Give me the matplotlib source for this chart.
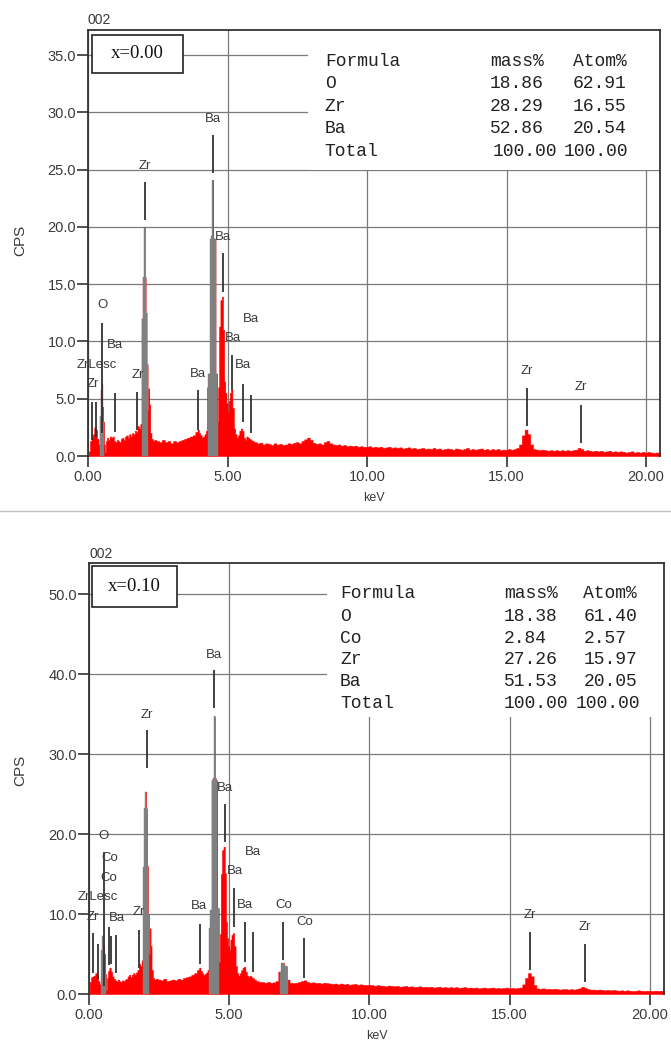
import numpy as np
import matplotlib
matplotlib.use("Agg")
import matplotlib.pyplot as plt
from matplotlib.patches import Rectangle
from matplotlib.lines import Line2D

# ---------------- data ----------------
energy_low = [0.00, 0.05, 0.10, 0.15, 0.20, 0.25, 0.30, 0.35, 0.40, 0.44, 0.47, 0.50, 0.53, 0.56, 0.59,
              0.62, 0.66, 0.70, 0.75, 0.80, 0.85, 0.90, 0.95, 1.00, 1.05, 1.10, 1.15, 1.20, 1.25, 1.30,
              1.35, 1.40, 1.45, 1.50, 1.55, 1.60, 1.65, 1.70, 1.75, 1.80, 1.85, 1.90, 1.94, 1.98, 2.02,
              2.05, 2.08, 2.12, 2.15, 2.18, 2.21, 2.25, 2.30, 2.35, 2.40, 2.50, 2.60, 2.70, 2.80, 2.90,
              3.00, 3.10, 3.20, 3.30, 3.40, 3.50, 3.60, 3.70, 3.80, 3.90, 3.95, 4.00, 4.05, 4.10, 4.15,
              4.20, 4.25, 4.29, 4.34, 4.40, 4.44, 4.47, 4.50, 4.54, 4.60, 4.65, 4.68, 4.72, 4.77, 4.82,
              4.86, 4.90, 4.94, 4.98, 5.02, 5.06, 5.10, 5.15, 5.20, 5.25, 5.30, 5.35, 5.40, 5.45, 5.50,
              5.55, 5.60, 5.65, 5.70, 5.75, 5.80, 5.85, 5.90]
energy_high = np.round(np.arange(6.0, 20.51, 0.1), 2)

top_cps_low = [0.0, 0.4, 1.3, 1.7, 1.9, 2.5, 2.3, 1.5, 1.0, 3.5, 5.8, 6.3, 4.3, 3.0, 1.0,
               0.3, 1.3, 1.6, 1.4, 1.7, 1.6, 1.7, 1.3, 1.2, 1.4, 1.3, 1.2, 1.5, 1.6, 1.4,
               1.7, 1.8, 1.6, 1.9, 1.7, 2.0, 1.9, 2.2, 2.1, 2.6, 2.4, 2.8, 12.0, 15.6, 20.0,
               15.6, 12.5, 8.0, 4.0, 5.9, 4.5, 2.0, 1.5, 1.3, 1.4, 1.3, 1.2, 1.4, 1.2, 1.3,
               1.1, 1.3, 1.2, 1.3, 1.4, 1.5, 1.6, 1.7, 1.8, 2.1, 2.3, 2.0, 1.8, 1.6, 1.7,
               1.9, 2.2, 6.0, 7.2, 18.9, 19.2, 24.1, 19.0, 18.9, 7.2, 3.0, 6.0, 11.3, 13.6, 13.9,
               11.0, 6.5, 5.5, 4.6, 3.8, 4.8, 5.5, 5.8, 4.2, 2.4, 1.9, 1.6, 1.8, 2.2, 2.4,
               2.2, 1.6, 1.4, 1.7, 1.6, 1.5, 1.4, 1.3]
top_cps_high = [1.2, 1.1, 1.15, 1.0, 1.1, 1.05, 0.95, 1.1, 1.0, 1.05,
                0.95, 1.0, 1.1, 1.05, 1.15, 1.2, 1.1, 1.3, 1.45, 1.6,
                1.4, 1.15, 1.05, 1.1, 1.0, 1.2, 1.3, 1.1, 1.0, 0.95,
                1.0, 0.9, 0.95, 0.85, 0.9, 0.85, 0.9, 0.8, 0.85, 0.8,
                0.8, 0.85, 0.75, 0.8, 0.75, 0.8, 0.7, 0.75, 0.8, 0.7,
                0.75, 0.7, 0.75, 0.65, 0.7, 0.75, 0.65, 0.7, 0.6, 0.65,
                0.7, 0.6, 0.65, 0.6, 0.7, 0.6, 0.65, 0.55, 0.6, 0.65,
                0.6, 0.55, 0.65, 0.6, 0.55, 0.6, 0.7, 0.55, 0.6, 0.55,
                0.6, 0.65, 0.55, 0.6, 0.5, 0.6, 0.55, 0.6, 0.5, 0.55,
                0.55, 0.6, 0.55, 0.6, 0.7, 1.0, 1.8, 2.3, 1.9, 1.0,
                0.6, 0.55, 0.5, 0.55, 0.5, 0.45, 0.5, 0.45, 0.5, 0.45,
                0.5, 0.45, 0.5, 0.45, 0.5, 0.55, 0.7, 0.6, 0.45, 0.5,
                0.45, 0.4, 0.45, 0.4, 0.45, 0.35, 0.4, 0.45, 0.35, 0.4,
                0.35, 0.4, 0.35, 0.3, 0.35, 0.4, 0.3, 0.35, 0.3, 0.35,
                0.3, 0.35, 0.3, 0.25, 0.3, 0.3]

bot_cps_low = [0.0, 1.5, 2.1, 2.2, 2.3, 2.6, 2.4, 1.6, 1.2, 5.5, 7.3, 6.2, 6.0, 5.0, 2.5,
               0.5, 2.0, 2.9, 3.3, 2.8, 2.2, 1.9, 1.7, 1.6, 1.8, 1.6, 1.5, 1.7, 1.6, 1.8,
               1.9, 2.2, 2.4, 2.1, 2.4, 2.6, 2.4, 2.7, 3.0, 3.8, 3.5, 4.2, 15.9, 23.2, 25.3,
               23.2, 16.0, 10.0, 5.0, 8.2, 6.0, 3.0, 2.0, 1.8, 1.9, 1.8, 1.7, 1.9, 1.6, 1.7,
               1.8, 1.7, 1.9, 1.8, 2.0, 2.1, 2.2, 2.4, 2.6, 3.0, 3.3, 2.9, 2.6, 2.4, 2.5,
               2.7, 3.0, 8.2, 10.5, 26.7, 27.0, 34.7, 27.0, 26.7, 10.7, 4.0, 7.5, 15.0, 18.0, 18.4,
               15.1, 9.0, 7.0, 6.0, 5.5, 6.8, 7.4, 7.6, 6.0, 3.5, 2.6, 2.3, 2.6, 3.0, 3.3,
               3.4, 2.8, 2.3, 2.1, 2.3, 2.1, 2.0, 1.8]
bot_cps_high = [1.6, 1.5, 1.5, 1.4, 1.5, 1.4, 1.45, 1.6, 2.8, 3.9,
                3.5, 1.8, 1.4, 1.35, 1.4, 1.5, 1.6, 1.7, 1.5, 1.4,
                1.45, 1.35, 1.4, 1.3, 1.4, 1.35, 1.3, 1.25, 1.3, 1.2,
                1.3, 1.2, 1.25, 1.15, 1.2, 1.25, 1.1, 1.2, 1.15, 1.1,
                1.15, 1.1, 1.0, 1.1, 1.05, 1.0, 0.95, 1.05, 1.0, 0.95,
                1.0, 0.9, 0.95, 1.0, 0.9, 0.95, 0.85, 0.9, 0.95, 0.85,
                0.9, 0.85, 0.9, 0.8, 0.85, 0.9, 0.8, 0.85, 0.8, 0.85,
                0.8, 0.85, 0.75, 0.8, 0.85, 0.75, 0.8, 0.75, 0.8, 0.7,
                0.75, 0.8, 0.7, 0.75, 0.8, 0.7, 0.75, 0.7, 0.75, 0.8,
                0.7, 0.75, 0.7, 0.75, 0.8, 1.2, 2.0, 2.6, 2.2, 1.1,
                0.7, 0.65, 0.7, 0.6, 0.65, 0.6, 0.65, 0.6, 0.55, 0.6,
                0.6, 0.55, 0.6, 0.55, 0.6, 0.7, 0.9, 0.75, 0.6, 0.55,
                0.55, 0.5, 0.55, 0.5, 0.45, 0.5, 0.45, 0.5, 0.45, 0.4,
                0.45, 0.4, 0.45, 0.4, 0.35, 0.4, 0.45, 0.4, 0.35, 0.4,
                0.4, 0.35, 0.4, 0.35, 0.4, 0.35]

# highlighted (grey) peak windows, keV
top_gray_lo = [0.43, 1.92, 4.27]
top_gray_hi = [0.60, 2.16, 4.66]
bot_gray_lo = [0.43, 1.92, 4.27, 6.75]
bot_gray_hi = [0.60, 2.16, 4.66, 7.15]

# KLM marker lines: energy, bottom, top (CPS)
top_mark_x = [0.15, 0.30, 0.51, 0.96, 1.77, 2.04, 3.95, 4.47, 4.84, 5.17, 5.54, 5.83, 15.72, 17.66]
top_mark_lo = [1.4, 1.7, 2.0, 2.1, 2.3, 20.6, 2.3, 24.7, 14.3, 5.8, 3.0, 2.0, 2.6, 1.1]
top_mark_hi = [4.7, 4.7, 11.6, 5.5, 5.6, 23.9, 5.8, 28.0, 17.7, 8.8, 6.3, 5.3, 5.9, 4.45]
top_lab_text = ["O", "Ba", "ZrLesc", "Zr", "Zr", "Ba", "Zr", "Ba", "Ba", "Ba", "Ba", "Ba", "Zr", "Zr"]
top_lab_x = [0.53, 0.97, 0.31, 0.17, 1.78, 3.95, 2.04, 4.47, 4.85, 5.83, 5.19, 5.54, 15.72, 17.66]
top_lab_y = [13.2, 9.7, 7.9, 6.3, 7.1, 7.2, 25.3, 29.4, 19.1, 12.0, 10.3, 7.9, 7.4, 6.0]

bot_mark_x = [0.15, 0.31, 0.52, 0.70, 0.77, 0.96, 1.78, 2.05, 3.95, 4.47, 4.84, 5.18, 5.55, 5.83,
              6.93, 7.67, 15.72, 17.67]
bot_mark_lo = [2.6, 1.9, 1.0, 3.6, 3.8, 2.6, 3.2, 28.2, 3.8, 35.7, 19.0, 8.4, 4.0, 2.8, 4.2, 2.0, 3.0, 1.5]
bot_mark_hi = [7.6, 6.3, 17.8, 8.4, 7.2, 7.4, 8.0, 33.0, 8.8, 40.5, 23.8, 13.2, 9.0, 7.8, 9.0, 7.0, 7.8, 6.3]
bot_lab_text = ["O", "Co", "Co", "ZrLesc", "Zr", "Ba", "Zr", "Ba", "Zr", "Ba", "Ba", "Ba", "Ba", "Ba",
                "Co", "Co", "Zr", "Zr"]
bot_lab_x = [0.51, 0.75, 0.69, 0.30, 0.15, 0.99, 1.79, 3.92, 2.06, 4.47, 4.85, 5.84, 5.20, 5.56,
             6.93, 7.68, 15.72, 17.68]
bot_lab_y = [19.75, 16.96, 14.5, 12.1, 9.6, 9.5, 10.2, 11.0, 34.9, 42.4, 25.8, 17.8, 15.4, 11.1,
             11.1, 9.0, 9.9, 8.4]

# quantitative tables
top_formula = ["O", "Zr", "Ba"]
top_mass = ["18.86", "28.29", "52.86"]
top_atom = ["62.91", "16.55", "20.54"]
bot_formula = ["O", "Co", "Zr", "Ba"]
bot_mass = ["18.38", "2.84", "27.26", "51.53"]
bot_atom = ["61.40", "2.57", "15.97", "20.05"]

top_yticks = [0, 5, 10, 15, 20, 25, 30, 35]
bot_yticks = [0, 10, 20, 30, 40, 50]
xticks = [0, 5, 10, 15, 20]

# ---------------- style ----------------
SANS = ["Liberation Sans", "DejaVu Sans"]
MONO = ["Liberation Mono", "DejaVu Sans Mono"]
SERIF = ["Liberation Serif", "DejaVu Serif"]
TXT = "#3a3a3a"
GRID = "#7a7a7a"
LINE = "#333333"

fig = plt.figure(figsize=(6.71, 10.41), dpi=100)
fig.patch.set_facecolor("white")


def panel(ax, ymax, yticks, cps_low, cps_high, glo, ghi, mx, mlo, mhi, ltext, lx, ly,
          label, formula, mass, atom, tab):
    E = np.concatenate([np.array(energy_low), energy_high])
    C = np.concatenate([np.array(cps_low), np.array(cps_high)])
    ax.set_xlim(0, 20.5)
    ax.set_ylim(0, ymax)
    ax.set_axisbelow(True)
    ax.grid(True, color=GRID, lw=0.9)
    ax.set_xticks(xticks)
    ax.set_yticks(yticks)
    ax.set_xticklabels(["%.2f" % v for v in xticks])
    ax.set_yticklabels(["%.1f" % v for v in yticks])
    ax.tick_params(axis="both", direction="out", length=8, width=1.2, color=LINE,
                   labelsize=10.5, labelcolor=TXT)
    ax.tick_params(axis="y", pad=0.5)
    ax.tick_params(axis="x", pad=2)
    for lab in ax.get_xticklabels() + ax.get_yticklabels():
        lab.set_fontfamily(SANS)
    for s in ["left", "top", "right"]:
        ax.spines[s].set_color(LINE)
        ax.spines[s].set_linewidth(1.3)
    ax.spines["bottom"].set_visible(False)

    ax.fill_between(E, 0, C, step="mid", color="#ff0000", lw=0.4, edgecolor="#ff0000",
                    zorder=2)
    for lo, hi in zip(glo, ghi):
        m = (E >= lo) & (E <= hi)
        ax.fill_between(E, 0, C, where=m, step="mid", color="#808080", lw=0.3,
                        edgecolor="#808080", zorder=3)
    ax.vlines(mx, mlo, mhi, color=LINE, lw=1.3, zorder=4)
    for t, x, y in zip(ltext, lx, ly):
        ax.text(x, y, t, ha="center", va="center", fontsize=9.5, color=TXT,
                family=SANS, zorder=5, clip_on=False)

    # table background and text
    bx0, by0 = tab["bg"]
    ax.add_patch(Rectangle((bx0, by0), 1 - bx0, 1 - by0, transform=ax.transAxes,
                           facecolor="white", edgecolor="none", zorder=1))
    rows = tab["rows"]
    c1, c2, c3, c2t, c3t = tab["cols"]
    kw = dict(transform=ax.transAxes, fontsize=13, family=MONO, color="#222222",
              va="center", ha="left", zorder=6)
    ax.text(c1, rows[0], "Formula", **kw)
    ax.text(c2, rows[0], "mass%", **kw)
    ax.text(c3, rows[0], "Atom%", **kw)
    for i, (f, ms, at) in enumerate(zip(formula, mass, atom)):
        ax.text(c1, rows[i + 1], f, **kw)
        ax.text(c2, rows[i + 1], ms, **kw)
        ax.text(c3, rows[i + 1], at, **kw)
    ax.text(c1, rows[-1], "Total", **kw)
    ax.text(c2t, rows[-1], "100.00", **kw)
    ax.text(c3t, rows[-1], "100.00", **kw)

    # sample label box
    x0, y0, x1, y1 = tab["box"]
    ax.add_patch(Rectangle((x0, y0), x1 - x0, y1 - y0, transform=ax.transAxes,
                           facecolor="white", edgecolor="#222222", lw=1.2, zorder=6))
    ax.text((x0 + x1) / 2, (y0 + y1) / 2, label, transform=ax.transAxes, ha="center",
            va="center", fontsize=13.5, family=SERIF, color="#111111", zorder=7)

    ax.text(0.0, tab["code_y"], "002", transform=ax.transAxes, ha="left", va="center",
            fontsize=10, family=SANS, color=TXT)
    ax.text(0.5, tab["kev_y"], "keV", transform=ax.transAxes, ha="center", va="center",
            fontsize=9, family=SANS, color=TXT)
    ax.text(-0.119, tab["cps_y"], "CPS", transform=ax.transAxes, ha="center", va="center",
            rotation=90, fontsize=11, family=SANS, color=TXT)


ax1 = fig.add_axes([88 / 671, 1 - 456 / 1041, 572 / 671, 426 / 1041])
panel(ax1, 35 * 426 / 401, top_yticks, top_cps_low, top_cps_high, top_gray_lo, top_gray_hi,
      top_mark_x, top_mark_lo, top_mark_hi, top_lab_text, top_lab_x, top_lab_y,
      "x=0.00", top_formula, top_mass, top_atom,
      dict(bg=(0.385, 0.671),
           rows=[0.9256, 0.875, 0.820, 0.769, 0.714],
           cols=(0.414, 0.703, 0.848, 0.708, 0.831),
           box=(0.0075, 0.900, 0.1655, 0.988),
           code_y=1.024, kev_y=-0.099, cps_y=0.507))

ax2 = fig.add_axes([89 / 671, 1 - 994 / 1041, 575 / 671, 430.7 / 1041])
panel(ax2, 430.7 / 8, bot_yticks, bot_cps_low, bot_cps_high, bot_gray_lo, bot_gray_hi,
      bot_mark_x, bot_mark_lo, bot_mark_hi, bot_lab_text, bot_lab_x, bot_lab_y,
      "x=0.10", bot_formula, bot_mass, bot_atom,
      dict(bg=(0.414, 0.643),
           rows=[0.9303, 0.876, 0.826, 0.7755, 0.725, 0.675],
           cols=(0.4365, 0.7217, 0.8597, 0.7217, 0.847),
           box=(0.0047, 0.8985, 0.1525, 0.9937),
           code_y=1.022, kev_y=-0.0975, cps_y=0.52))

# separator between the two panels
fig.add_artist(Line2D([0, 1], [1 - 511 / 1041, 1 - 511 / 1041], transform=fig.transFigure,
                      color="#c0c0c0", lw=1.0))

fig.savefig("out.png", dpi=100, facecolor="white")
